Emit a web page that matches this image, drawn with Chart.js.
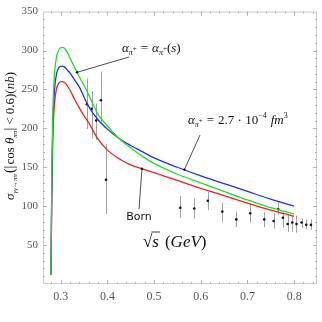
<!DOCTYPE html>
<html>
<head>
<meta charset="utf-8">
<script src="https://cdn.jsdelivr.net/npm/chart.js@4"></script>
<style>
  html, body { margin: 0; padding: 0; background: #fff; }
  #wrap { width: 322px; height: 322px; }
</style>
</head>
<body>
<div id="wrap"><canvas id="chart" width="322" height="322"></canvas></div>
<script>
// curves (sqrt(s) in GeV, cross section in nb)
var curveX = [0.279, 0.2805, 0.282, 0.284, 0.287, 0.291, 0.296, 0.302, 0.308, 0.314, 0.32, 0.33, 0.34, 0.35, 0.36, 0.38, 0.40, 0.425, 0.45, 0.475, 0.5, 0.55, 0.6, 0.65, 0.7, 0.75, 0.8];
var greenY = [12, 110, 185, 240, 273, 292, 301, 304, 303, 298, 290, 278, 266, 255, 243, 218, 203, 187, 175, 164, 155, 141, 130, 119, 108, 98, 90];
var blueY  = [12, 102, 172, 222, 252, 270, 278, 280, 279, 275, 271, 262, 253, 240, 228, 211, 199, 187, 178, 170, 162, 150, 139, 129, 119, 109, 100];
var redY   = [12, 95, 160, 205, 234, 251, 258, 260, 259, 255, 249, 237, 226, 216, 207, 186, 172, 161, 153, 148, 143, 133, 123, 113.5, 104, 95, 87];

// experimental points with error bars
var dataX  = [0.356, 0.366, 0.376, 0.386, 0.397, 0.556, 0.586, 0.615, 0.646, 0.676, 0.706, 0.736, 0.756, 0.766, 0.776, 0.786, 0.796, 0.805, 0.816, 0.826, 0.836];
var dataY  = [231, 225, 210, 236, 134, 98, 97, 107, 93, 83, 91, 83, 81, 96, 85, 77, 79, 77, 79, 76, 76];
var dataLo = [199, 187, 185, 207, 90, 85, 84, 95, 80, 73, 79, 73, 71, 89, 72, 67, 67, 66, 72, 70, 70];
var dataHi = [264, 248, 232, 273, 180, 113, 110, 118, 104, 93, 104, 92, 91, 106, 93, 89, 87, 88, 84, 83, 83];

var xTicks = [0.3, 0.4, 0.5, 0.6, 0.7, 0.8];
var yTicks = [50, 100, 150, 200, 250, 300, 350];

function pts(xs, ys) {
  return xs.map(function(x, i) { return {x: x, y: ys[i]}; });
}

var SERIF = '"Liberation Serif", "DejaVu Serif", serif';

// draw a run of text pieces: [text, fontStyle, size, dy, gapAfter]
function rich(ctx, x, y, parts) {
  ctx.textBaseline = 'alphabetic';
  ctx.textAlign = 'left';
  parts.forEach(function(p) {
    ctx.font = p[1] + ' ' + p[2] + 'px ' + SERIF;
    ctx.fillText(p[0], x, y + (p[3] || 0));
    x += ctx.measureText(p[0]).width + (p[4] || 0);
  });
  return x;
}

function richWidth(ctx, parts) {
  var w = 0;
  parts.forEach(function(p) {
    ctx.font = p[1] + ' ' + p[2] + 'px ' + SERIF;
    w += ctx.measureText(p[0]).width + (p[4] || 0);
  });
  return w;
}

var extras = {
  id: 'extras',
  beforeDatasetsDraw: function(chart) {
    var ctx = chart.ctx, xs = chart.scales.x, ys = chart.scales.y, a = chart.chartArea;
    ctx.save();
    // frame
    ctx.strokeStyle = '#cccccc';
    ctx.lineWidth = 1;
    ctx.strokeRect(a.left + 0.5, a.top + 0.5, a.right - a.left - 1, a.bottom - a.top - 1);
    // inward ticks
    ctx.strokeStyle = '#b0b0b0';
    ctx.beginPath();
    for (var v = 0.27; v < 0.85; v += 0.01) {
      var major = Math.abs(v * 10 - Math.round(v * 10)) < 0.001;
      var minor = Math.abs(v * 50 - Math.round(v * 50)) < 0.001;
      if (!major && !minor) continue;
      var len = major ? 4 : 2;
      var px = Math.round(xs.getPixelForValue(v)) + 0.5;
      ctx.moveTo(px, a.bottom); ctx.lineTo(px, a.bottom - len);
      ctx.moveTo(px, a.top); ctx.lineTo(px, a.top + len);
    }
    for (var w = 10; w < 350; w += 10) {
      var len2 = (w % 50 === 0) ? 4 : 2;
      var py = Math.round(ys.getPixelForValue(w)) + 0.5;
      ctx.moveTo(a.left, py); ctx.lineTo(a.left + len2, py);
      ctx.moveTo(a.right, py); ctx.lineTo(a.right - len2, py);
    }
    ctx.stroke();
    // error bars
    ctx.strokeStyle = '#a0a0a0';
    ctx.beginPath();
    dataX.forEach(function(x, i) {
      var px = Math.round(xs.getPixelForValue(x)) + 0.5;
      ctx.moveTo(px, ys.getPixelForValue(dataLo[i]));
      ctx.lineTo(px, ys.getPixelForValue(dataHi[i]));
    });
    ctx.stroke();
    ctx.restore();
  },
  afterDatasetsDraw: function(chart) {
    var ctx = chart.ctx, xs = chart.scales.x, ys = chart.scales.y;
    ctx.save();
    ctx.fillStyle = '#111';
    ctx.strokeStyle = '#222';
    ctx.lineWidth = 0.8;
    // pointer lines
    var tips = [[129, 57, 0.335, 272], [200, 135, 0.565, 147], [139, 209, 0.474, 148]];
    ctx.beginPath();
    tips.forEach(function(t) {
      ctx.moveTo(t[0], t[1]);
      ctx.lineTo(xs.getPixelForValue(t[2]), ys.getPixelForValue(t[3]));
    });
    ctx.stroke();
    tips.forEach(function(t) {
      ctx.beginPath();
      ctx.arc(xs.getPixelForValue(t[2]), ys.getPixelForValue(t[3]), 1.2, 0, Math.PI * 2);
      ctx.fill();
    });
    // label: alpha = alpha(s)
    rich(ctx, 122, 52, [
      ['\u03b1', 'italic', 13], ['\u03c0', 'italic', 8, 3], ['+', '', 7, -1, 4],
      ['=', '', 13, 0, 4], ['\u03b1', 'italic', 13], ['\u03c0', 'italic', 8, 3], ['+', '', 7, -1],
      ['(', '', 13], ['s', 'italic', 13], [')', '', 13]
    ]);
    // label: alpha = 2.7e-4 fm^3
    rich(ctx, 188, 124, [
      ['\u03b1', 'italic', 13], ['\u03c0', 'italic', 8, 3], ['+', '', 7, -1, 4],
      ['=', '', 13, 0, 4], ['2.7 \u00b7 10', '', 13], ['\u22124', '', 8, -6, 4],
      ['fm', 'italic', 13], ['3', '', 8, -6]
    ]);
    // Born
    ctx.font = '11px "DejaVu Sans", sans-serif';
    ctx.textAlign = 'center';
    ctx.textBaseline = 'middle';
    ctx.fillText('Born', 139, 217);
    // x title: sqrt(s) (GeV)
    var x0 = 143, y0 = 247;
    ctx.font = '17px ' + SERIF;
    ctx.textAlign = 'left';
    ctx.textBaseline = 'alphabetic';
    ctx.fillText('\u221a', x0, y0);
    var rw = ctx.measureText('\u221a').width;
    ctx.font = 'italic 17px ' + SERIF;
    var sw = ctx.measureText('s').width;
    ctx.fillText('s', x0 + rw, y0);
    ctx.beginPath();
    ctx.lineWidth = 0.9;
    ctx.moveTo(x0 + rw - 1, y0 - 15); ctx.lineTo(x0 + rw + sw + 1, y0 - 15);
    ctx.stroke();
    rich(ctx, x0 + rw + sw + 6, y0, [['(', '', 17], ['GeV', 'italic', 17], [')', '', 17]]);
    // y title
    var parts = [
      ['\u03c3', 'italic', 13], ['\u03b3\u03b3\u2192\u03c0\u03c0', 'italic', 7, 3, 1],
      ['(', '', 14], ['|', '', 14, 0, 1], ['cos ', '', 13], ['\u03b8', 'italic', 13], ['\u03c0\u03c0', 'italic', 7, 3],
      ['|', '', 14, 0, 3], ['< 0.6)', '', 13], ['(', '', 13], ['nb', 'italic', 13], [')', '', 13]
    ];
    ctx.translate(10, 136);
    ctx.rotate(-Math.PI / 2);
    rich(ctx, -richWidth(ctx, parts) / 2, 4, parts);
    ctx.restore();
  }
};

var ctx = document.getElementById('chart').getContext('2d');
var chart = new Chart(ctx, {
  type: 'line',
  data: {
    datasets: [
      { data: pts(curveX, greenY), borderColor: '#22dd22', borderWidth: 1.3, pointRadius: 0, cubicInterpolationMode: 'monotone' },
      { data: pts(curveX, blueY), borderColor: '#2233dd', borderWidth: 1.3, pointRadius: 0, cubicInterpolationMode: 'monotone' },
      { data: pts(curveX, redY), borderColor: '#ee2222', borderWidth: 1.3, pointRadius: 0, cubicInterpolationMode: 'monotone' },
      { type: 'scatter', data: pts(dataX, dataY), backgroundColor: '#111', borderWidth: 0, pointRadius: 1.3 }
    ]
  },
  options: {
    responsive: false,
    animation: false,
    layout: { padding: { top: 10, right: 5, left: 0, bottom: 0 } },
    plugins: { legend: { display: false }, tooltip: { enabled: false } },
    scales: {
      x: {
        type: 'linear', min: 0.262, max: 0.849,
        afterBuildTicks: function(s) { s.ticks = xTicks.map(function(v) { return {value: v}; }); },
        afterFit: function(s) { s.height = 38; },
        grid: { display: false, drawTicks: false },
        border: { display: false },
        ticks: { padding: 6, color: '#555', font: { family: SERIF, size: 12 }, callback: function(v) { return v.toFixed(1); } }
      },
      y: {
        type: 'linear', min: 0, max: 350,
        afterBuildTicks: function(s) { s.ticks = yTicks.map(function(v) { return {value: v}; }); },
        afterFit: function(s) { s.width = 43; },
        grid: { display: false, drawTicks: false },
        border: { display: false },
        ticks: { padding: 5, color: '#555', font: { family: SERIF, size: 11 } }
      }
    }
  },
  plugins: [extras]
});
</script>
</body>
</html>
